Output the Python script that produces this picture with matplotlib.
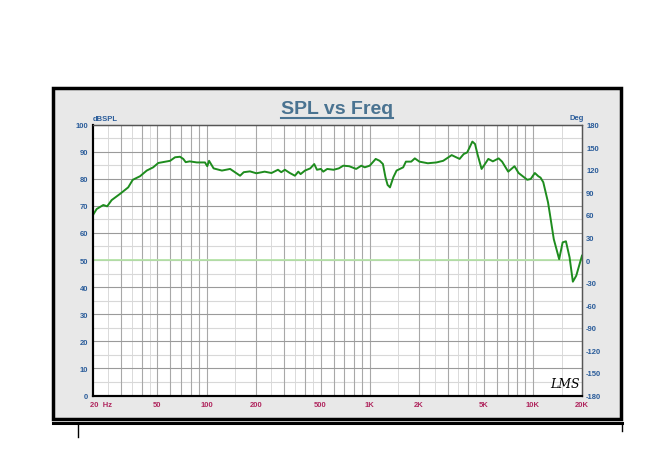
import numpy as np
import matplotlib
matplotlib.use('Agg')
import matplotlib.pyplot as plt
import matplotlib.transforms as mtransforms
from matplotlib.patches import Rectangle
from matplotlib.lines import Line2D

plt.rcParams['font.family'] = ['Liberation Sans', 'DejaVu Sans']
plt.rcParams['axes.unicode_minus'] = False

# SPL response
freq = [20, 21.2, 23.3, 24.6, 26.2, 29.5, 33.1, 35.3, 39.1, 43.0, 47.1, 50.6, 59.8,
        64.1, 68.7, 72, 74.5, 78.8, 87.2, 97.8, 101, 103.6, 110.5, 124.2, 139.5,
        160.5, 169, 184.5, 202, 227, 250, 274, 287, 302, 324, 348, 365, 377, 401,
        432, 457, 475, 502, 519, 549, 600, 646, 689, 749, 826, 888, 932, 1000,
        1088, 1151, 1205, 1249, 1287, 1331, 1395, 1461, 1604, 1666, 1796, 1890,
        2015, 2271, 2564, 2819, 3180, 3555, 3767, 3958, 4257, 4420, 4574, 4849,
        5083, 5332, 5684, 6168, 6475, 7060, 7715, 8175, 9240, 9700, 10280, 10800,
        11140, 11580, 12380, 12710, 13430, 14490, 15220, 15940, 16780, 17580,
        18440, 20000]
spl = [66.3, 68.8, 70.3, 69.8, 72.1, 74.4, 76.8, 79.6, 80.9, 83.0, 84.2, 85.8, 86.6,
       87.9, 88.1, 87.3, 86.1, 86.4, 86.0, 86.0, 84.6, 86.6, 83.8, 83.0, 83.6,
       81.1, 82.4, 82.7, 82.0, 82.6, 82.1, 83.3, 82.4, 83.3, 82.1, 81.1, 82.6,
       81.7, 83.0, 83.8, 85.4, 83.3, 83.6, 82.6, 83.6, 83.3, 83.8, 84.8, 84.6,
       83.6, 84.8, 84.2, 84.8, 87.3, 86.6, 85.4, 80.5, 77.7, 76.8, 80.5, 83.0,
       84.2, 86.3, 86.3, 87.5, 86.3, 85.7, 86.0, 86.6, 88.7, 87.3, 89.1, 89.7,
       93.7, 92.8, 89.1, 83.6, 85.4, 87.3, 86.4, 87.5, 86.3, 82.6, 84.6, 82.1,
       79.6, 79.9, 82.1, 80.9, 80.4, 78.7, 71.3, 67.0, 57.7, 50.3, 56.5, 56.9,
       51.0, 42.0, 44.2, 51.6]

x_ticks = [20, 50, 100, 200, 500, 1000, 2000, 5000, 10000, 20000]
x_labels = ['20  Hz', '50', '100', '200', '500', '1K', '2K', '5K', '10K', '20K']
db_ticks = list(range(0, 101, 10))
deg_ticks = list(range(-180, 181, 30))

W, H = 668, 477
fig = plt.figure(figsize=(W / 100, H / 100), dpi=100)
fig.patch.set_facecolor('white')

def fx(px):
    return px / W

def fy(py):
    return 1 - py / H

# grey panel with heavy black border (behind the axes)
fig.patches.append(Rectangle((fx(53), fy(420)), fx(621) - fx(53), fy(89) - fy(420),
                             transform=fig.transFigure, facecolor='#e8e8e8',
                             edgecolor='black', linewidth=2.5, zorder=-5))
fig.add_artist(Line2D([fx(53), fx(622)], [fy(423.5), fy(423.5)], color='black', lw=2.2))
fig.add_artist(Line2D([fx(77.5), fx(77.5)], [fy(423.5), fy(438)], color='black', lw=1))
fig.add_artist(Line2D([fx(621.5), fx(621.5)], [fy(423.5), fy(432)], color='black', lw=1))

ax = fig.add_axes([fx(92.5), fy(396.5), fx(582) - fx(92.5), fy(125.5) - fy(396.5)])
ax.set_facecolor('white')
ax.set_xscale('log')
ax.set_xlim(20, 20000)
ax.set_ylim(0, 100)

# grid: decade multiples plus lighter half steps
for dec in [10, 100, 1000, 10000]:
    for m in range(1, 10):
        f = m * dec
        if 20 < f < 20000:
            ax.axvline(f, color='#a8a8a8', lw=0.8, zorder=1)
        fh = (m + 0.5) * dec
        if 20 < fh < 20000 and m < 5:
            ax.axvline(fh, color='#dadada', lw=0.7, zorder=0.5)
for v in range(10, 100, 10):
    ax.axhline(v, color='#9a9a9a', lw=0.8, zorder=1)
for v in range(5, 100, 10):
    ax.axhline(v, color='#d8d8d8', lw=0.8, zorder=0.5)
ax.axhline(50, color='#b5e3a8', lw=1.3, zorder=2)

ax.plot(freq, spl, color='#1e8c1e', lw=1.4, zorder=3)

ax.set_xticks(x_ticks)
ax.set_xticklabels(x_labels)
ax.set_xticks([], minor=True)
ax.tick_params(axis='x', length=0, pad=4, labelsize=5.5, labelcolor='#b0265e')
for lbl in ax.get_xticklabels():
    lbl.set_fontweight('bold')
first = ax.get_xticklabels()[0]
first.set_ha('left')
first.set_transform(first.get_transform() + mtransforms.ScaledTranslation(-3 / 100, 0, fig.dpi_scale_trans))

ax.set_yticks(db_ticks)
ax.tick_params(axis='y', length=0, pad=3, labelsize=5.5, labelcolor='#2a5c9a')
for lbl in ax.get_yticklabels():
    lbl.set_fontweight('bold')

ax2 = ax.twinx()
ax2.set_ylim(-180, 180)
ax2.set_yticks(deg_ticks)
ax2.tick_params(axis='y', length=0, pad=3, labelsize=5.5, labelcolor='#2a5c9a')
for lbl in ax2.get_yticklabels():
    lbl.set_fontweight('bold')

for a in (ax, ax2):
    a.spines['left'].set_color('black')
    a.spines['left'].set_linewidth(1.5)
    a.spines['bottom'].set_color('black')
    a.spines['bottom'].set_linewidth(1.5)
    a.spines['top'].set_color('#555555')
    a.spines['top'].set_linewidth(0.9)
    a.spines['right'].set_color('#555555')
    a.spines['right'].set_linewidth(0.9)

fig.text(fx(93), fy(120), 'dBSPL', color='#2a5c9a', fontsize=5.5, fontweight='bold',
         ha='left', va='center')
fig.text(fx(570), fy(119), 'Deg', color='#2a5c9a', fontsize=5.5, fontweight='bold',
         ha='left', va='center')
fig.text(fx(337), fy(109), 'SPL vs Freq', color='#4a7391', fontsize=14, fontweight='bold',
         ha='center', va='center')
fig.add_artist(Line2D([fx(281), fx(393)], [fy(118.5), fy(118.5)], color='#4a7391', lw=1.5))
fig.text(fx(565), fy(385), 'LMS', color='black', fontsize=9, fontstyle='italic',
         family='DejaVu Serif', ha='center', va='center')

fig.savefig('out.png', dpi=100)
